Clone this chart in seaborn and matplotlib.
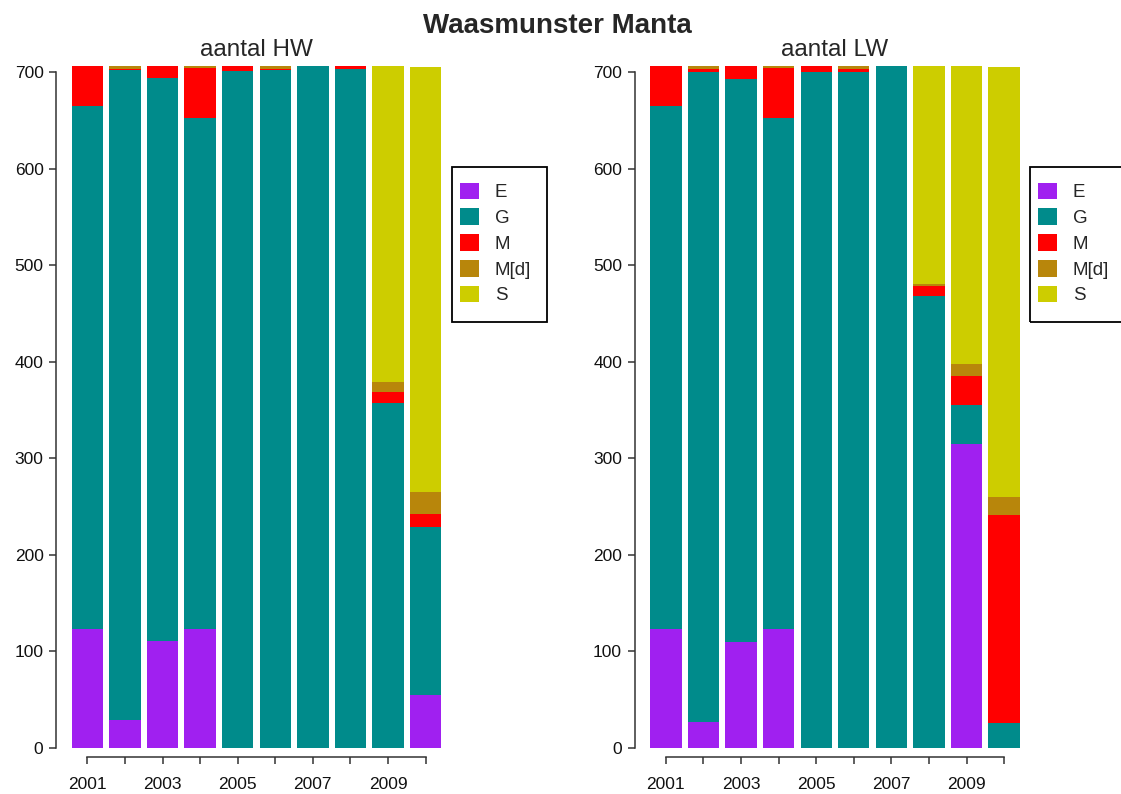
import matplotlib
matplotlib.use('Agg')
import matplotlib.pyplot as plt
from matplotlib.patches import Patch, Rectangle
import seaborn as sns

# Data (counts per year, stacked)
years = ['2001', '2002', '2003', '2004', '2005', '2006', '2007', '2008', '2009', '2010']
categories = ['E', 'G', 'M', 'M[d]', 'S']
colors = ['#A020F0', '#008B8B', '#FF0000', '#B8860B', '#CDCD00']

hw_E = [123, 29, 111, 123, 0, 0, 0, 0, 0, 55]
hw_G = [542, 673, 583, 529, 701, 702, 706, 703, 357, 174]
hw_M = [41, 1, 12, 52, 5, 1, 0, 3, 12, 13]
hw_Md = [0, 3, 0, 2, 0, 3, 0, 0, 10, 23]
hw_S = [0, 0, 0, 0, 0, 0, 0, 0, 327, 440]

lw_E = [123, 27, 110, 123, 0, 0, 0, 0, 315, 0]
lw_G = [542, 673, 583, 529, 700, 700, 706, 468, 40, 26]
lw_M = [41, 3, 13, 52, 6, 3, 0, 10, 30, 215]
lw_Md = [0, 3, 0, 2, 0, 3, 0, 3, 13, 19]
lw_S = [0, 0, 0, 0, 0, 0, 0, 225, 308, 445]

sns.set_theme(style='white')
plt.rcParams['font.family'] = ['Liberation Sans', 'DejaVu Sans']

W, H = 1121, 794
fig = plt.figure(figsize=(W / 100, H / 100), dpi=100)

panels = [
    ('aantal HW', [hw_E, hw_G, hw_M, hw_Md, hw_S], 56, 451.7),
    ('aantal LW', [lw_E, lw_G, lw_M, lw_Md, lw_S], 634.5, 1030),
]

for title, series, x0, leg_x in panels:
    ax = fig.add_axes([x0 / W, 1 - 757.2 / H, 401 / W, (757.2 - 52.7) / H])

    # cumulative heights, drawn tallest first so each segment sits on top
    cum = []
    running = [0] * len(years)
    for s in series:
        running = [a + b for a, b in zip(running, s)]
        cum.append(running)
    for c, col in zip(reversed(cum), reversed(colors)):
        sns.barplot(x=years, y=c, color=col, width=0.833, saturation=1,
                    linewidth=0, errorbar=None, ax=ax)

    ax.set_xlim(-0.835, 9.835)
    ax.set_ylim(-9.5, 720)
    ax.set_xlabel('')
    ax.set_ylabel('')
    ax.set_yticks(range(0, 701, 100))
    ax.set_xticks(range(len(years)))
    ax.set_xticklabels([y if i % 2 == 0 else '' for i, y in enumerate(years)])
    for side in ['top', 'right']:
        ax.spines[side].set_visible(False)
    ax.spines['left'].set_bounds(0, 700)
    ax.spines['bottom'].set_bounds(0, 9)
    for side in ['left', 'bottom']:
        ax.spines[side].set_color('#333333')
        ax.spines[side].set_linewidth(1.1)
    ax.tick_params(axis='both', bottom=True, left=True, direction='out',
                   length=5, width=1.1, color='#333333', labelsize=12.5,
                   labelcolor='#111111')
    ax.tick_params(axis='x', pad=9)
    ax.tick_params(axis='y', pad=4)

    fig.text((x0 + 200.5) / W, 1 - 56 / H, title, ha='center', va='baseline',
             fontsize=17.5)

    # legend box drawn by hand so the padding matches
    fig.add_artist(Rectangle((leg_x / W, 1 - 321.7 / H), 95.3 / W, 154.4 / H,
                             transform=fig.transFigure, fill=False,
                             edgecolor='black', linewidth=1.3))
    handles = [Patch(facecolor=c, edgecolor='none') for c in colors]
    fig.legend(handles, categories, loc='upper left',
               bbox_to_anchor=((leg_x + 8.3) / W, 1 - 182.6 / H),
               frameon=False, borderpad=0, borderaxespad=0,
               handlelength=1.0, handleheight=1.0, handletextpad=0.85,
               labelspacing=0.37, fontsize=13.5)

fig.text(0.4975, 1 - 33 / H, 'Waasmunster Manta', ha='center', va='baseline',
         fontsize=20, fontweight='bold')

fig.savefig('out.png', dpi=100)
